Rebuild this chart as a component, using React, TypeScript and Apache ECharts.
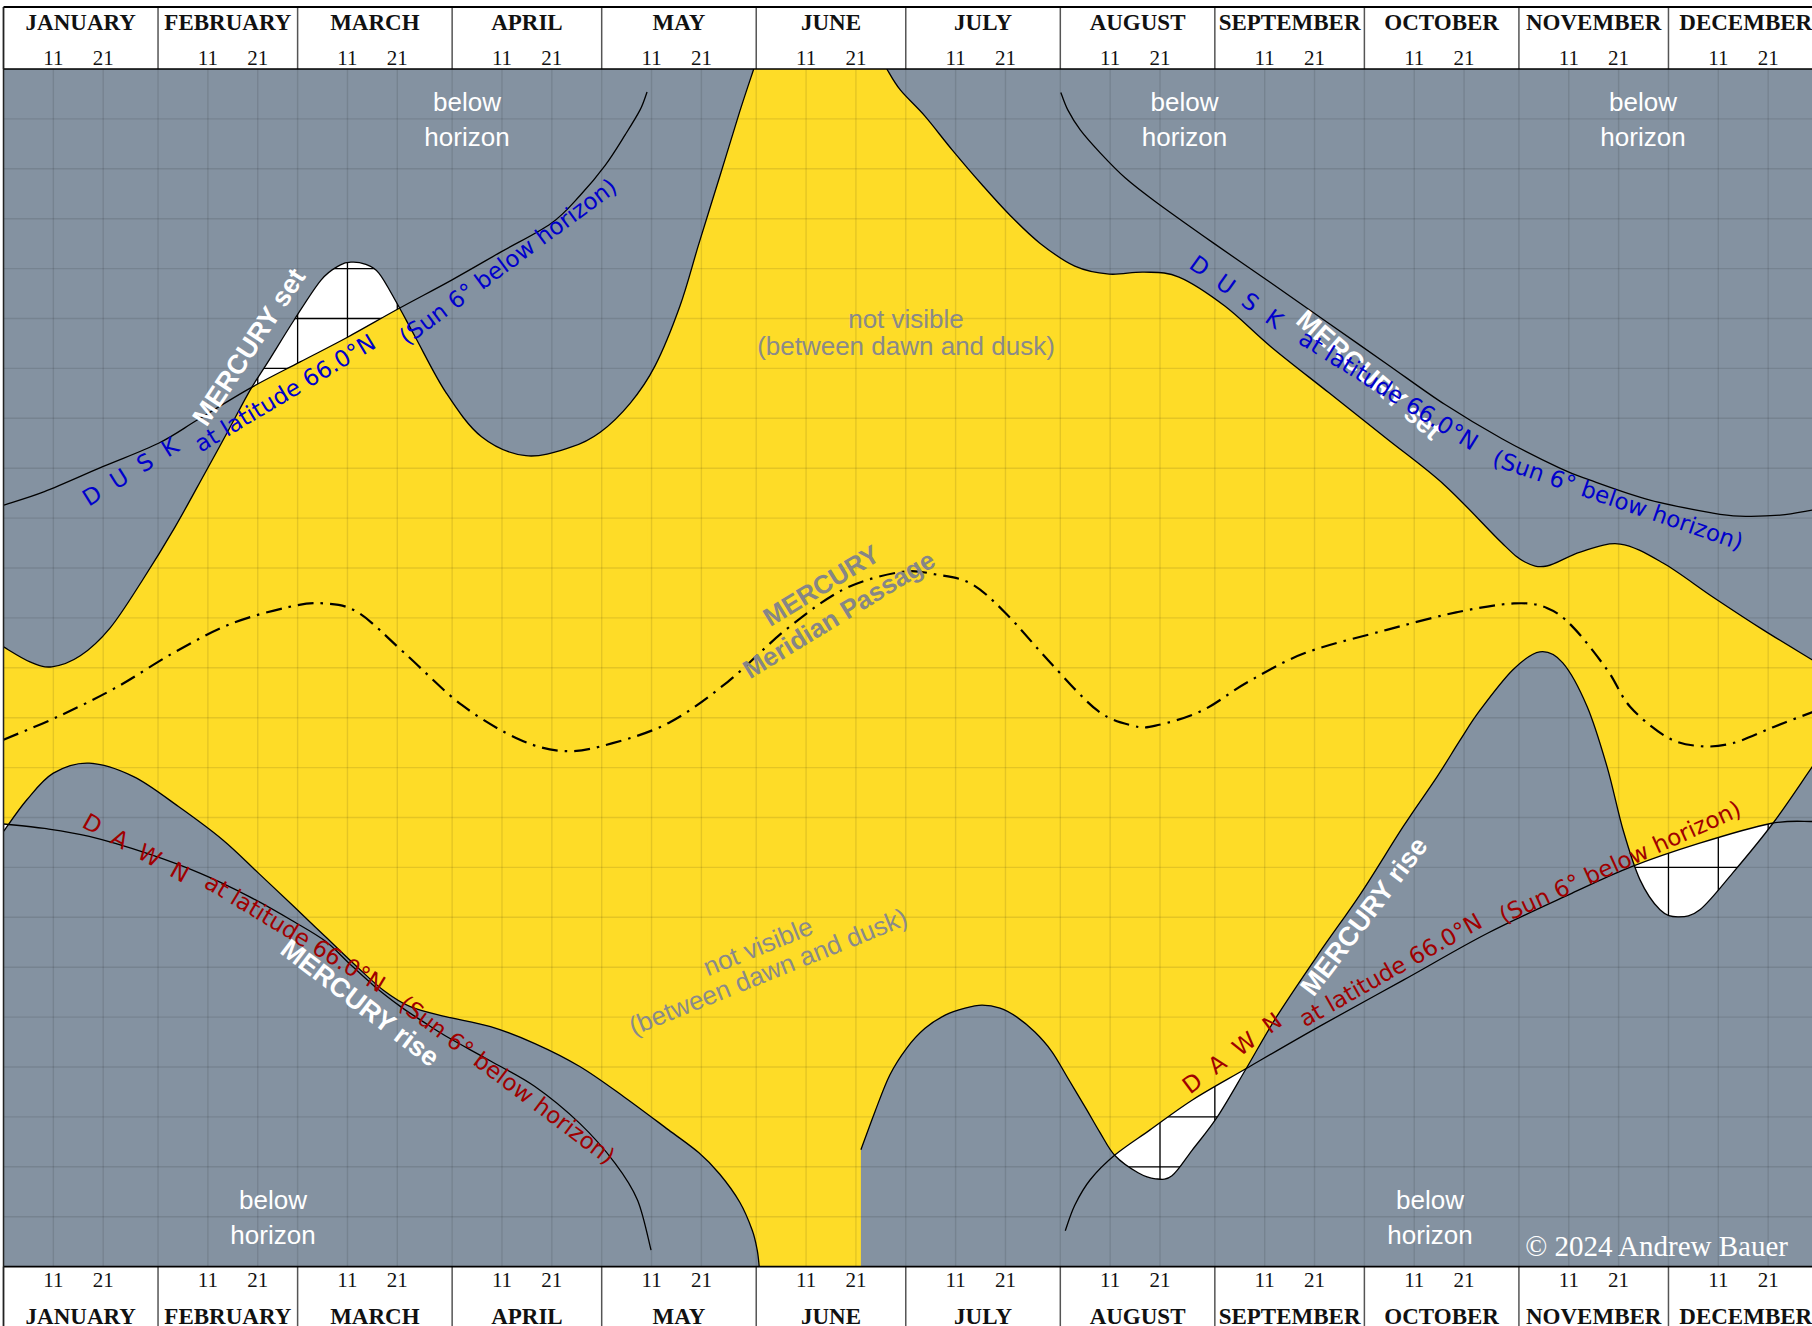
import React, { useEffect, useRef } from 'react';
import * as echarts from 'echarts';

// ---------- axis labels ----------
const MONTHS = ['JANUARY', 'FEBRUARY', 'MARCH', 'APRIL', 'MAY', 'JUNE', 'JULY', 'AUGUST', 'SEPTEMBER', 'OCTOBER', 'NOVEMBER', 'DECEMBER'];
const MONTH_DAYS = [31, 28, 31, 30, 31, 30, 31, 31, 30, 31, 30, 31];
const DAY_TICKS = [11, 21];
const HOUR_LINES = [0, 1, 2, 3, 4, 5, 6, 7, 8, 9, 10, 11, 12, 13, 14, 15, 16, 17, 18, 19, 20, 21, 22, 23, 24];

// ---------- curves: [day of year, hour] ----------
const SET_1 = [[0, 12.42], [5.3, 12.12], [9.7, 12.02], [15.4, 12.24], [21.4, 12.8], [27.9, 13.76], [34.4, 14.82], [40.4, 15.9], [44.8, 16.7], [49.5, 17.57], [53.0, 18.12], [58.3, 18.97], [63.7, 19.77], [67.5, 20.07], [69.9, 20.13], [72.5, 20.09], [75.3, 19.91], [78.9, 19.31], [82.6, 18.63], [88.8, 17.51], [95.9, 16.63], [104.8, 16.25], [113.8, 16.42], [119.7, 16.72], [125.7, 17.3], [130.7, 18.05], [135.7, 19.25], [139.5, 20.5], [143.7, 21.85], [147.7, 23.15], [150.5, 24]];
const SET_2 = [[177.2, 24], [179.9, 23.58], [184.8, 23.06], [190.3, 22.38], [196.3, 21.68], [201.9, 21.07], [207.9, 20.51], [214.9, 20.05], [221.8, 19.89], [228.8, 19.93], [235.8, 19.83], [245.0, 19.25], [254.3, 18.43], [265.9, 17.51], [277.5, 16.59], [289.1, 15.66], [300.6, 14.5], [305.2, 14.12], [309.6, 14.04], [316.3, 14.32], [324.3, 14.48], [332.9, 14.1], [342.9, 13.42], [353.0, 12.76], [362.8, 12.16], [365, 12.02]];
const RISE_1 = [[0, 8.72], [4.65, 9.35], [10.0, 9.89], [17.2, 10.09], [26.1, 9.82], [35.1, 9.22], [44.0, 8.55], [51.2, 7.88], [58.3, 7.21], [64.6, 6.61], [70.9, 6.01], [76.2, 5.54], [81.6, 5.21], [88.7, 5.01], [97.7, 4.81], [106.6, 4.47], [115.6, 4.01], [124.5, 3.4], [133.4, 2.74], [139.5, 2.28], [143.7, 1.85], [147.7, 1.29], [150.2, 0.73], [151.2, 0.33], [151.6, 0]];
const RISE_2 = [[172.0, 2.34], [174.8, 3.1], [177.8, 3.84], [181.2, 4.38], [184.8, 4.77], [188.9, 5.04], [192.9, 5.18], [196.3, 5.24], [199.9, 5.18], [203.3, 5.0], [206.9, 4.7], [210.3, 4.31], [213.5, 3.78], [217.2, 3.16], [220.0, 2.68], [223.0, 2.22], [227.6, 1.88], [231.1, 1.76], [234.4, 1.82], [238.5, 2.34], [243.5, 3.0], [249.3, 3.97], [255.4, 5.01], [263.9, 6.28], [272.3, 7.48], [280.8, 8.82], [287.6, 9.82], [292.2, 10.55], [296.2, 11.15], [302.8, 11.96], [308.2, 12.32], [312.8, 12.1], [317.7, 11.22], [321.7, 10.01], [324.9, 8.75], [328.3, 7.75], [332.3, 7.15], [335.9, 7.01], [340.3, 7.15], [346.9, 7.89], [355.0, 8.89], [362.8, 10.01], [365, 10.31]];
const DUSK_L = [[0, 15.26], [8.2, 15.53], [19.9, 16.03], [31.1, 16.5], [39.1, 16.98], [49.4, 17.6], [59.5, 18.13], [69.1, 18.63], [79.3, 19.2], [89.9, 19.77], [99.9, 20.34], [109.9, 20.91], [115.7, 21.47], [120.7, 22.07], [124.7, 22.68], [127.7, 23.18], [129.1, 23.54]];
const DAWN_L = [[0, 8.87], [8.2, 8.78], [17.2, 8.62], [28.8, 8.28], [39.5, 7.88], [49.4, 7.41], [58.3, 6.91], [64.6, 6.52], [69.1, 6.1], [74.4, 5.62], [79.8, 5.2], [84.0, 4.92], [88.7, 4.62], [97.7, 4.12], [106.6, 3.61], [115.6, 2.87], [122.7, 2.07], [127.2, 1.33], [129.9, 0.33]];
const DUSK_R = [[212.1, 23.53], [213.5, 23.18], [216.0, 22.78], [220.0, 22.32], [225.0, 21.82], [231.1, 21.34], [242.6, 20.52], [254.3, 19.71], [265.9, 18.9], [277.5, 18.09], [289.1, 17.28], [300.6, 16.59], [312.2, 16.0], [318.3, 15.76], [330.3, 15.36], [342.9, 15.1], [348.3, 15.04], [356.4, 15.06], [362.8, 15.16], [365, 15.2]];
const DAWN_R = [[213.0, 0.72], [214.9, 1.23], [218.0, 1.74], [223.0, 2.24], [230.0, 2.74], [238.5, 3.34], [249.3, 3.97], [263.9, 4.81], [280.8, 5.74], [297.7, 6.68], [314.6, 7.48], [326.5, 8.01], [340.1, 8.48], [354.5, 8.88], [362.8, 8.92], [365, 8.91]];
const MERIDIAN = [[0, 10.56], [10.9, 11.02], [22.5, 11.6], [34.1, 12.3], [45.6, 12.88], [57.3, 13.22], [64.2, 13.29], [71.1, 13.11], [80.4, 12.3], [92.0, 11.25], [103.6, 10.56], [112.8, 10.33], [122.2, 10.49], [133.7, 10.91], [145.3, 11.72], [156.9, 12.76], [168.5, 13.57], [180.0, 13.92], [187.1, 13.87], [194.0, 13.69], [200.9, 13.11], [210.3, 12.07], [219.5, 11.14], [226.5, 10.84], [231.1, 10.84], [240.4, 11.14], [249.7, 11.72], [261.2, 12.3], [277.5, 12.76], [291.4, 13.11], [303.0, 13.29], [309.6, 13.2], [314.8, 12.82], [321.7, 11.96], [326.3, 11.22], [333.7, 10.61], [340.3, 10.43], [346.9, 10.49], [355.0, 10.81], [362.8, 11.11], [365, 11.19]];

// ---------- style ----------
const YELLOW = '#fedc27';
const GRAY = '#8492a1';
const BLUE = '#0000cc';
const RED = '#a00000';
const SANS = '"Liberation Sans", Arial, sans-serif';
const DJV = '"DejaVu Sans", sans-serif';
const SERIF = '"Liberation Serif", "Times New Roman", serif';

function crPath(pts: number[][], first = 'M'): string {
  const f = (v: number) => v.toFixed(2);
  let d = `${first}${f(pts[0][0])},${f(pts[0][1])}`;
  for (let i = 0; i < pts.length - 1; i++) {
    const p0 = pts[Math.max(0, i - 1)];
    const p1 = pts[i];
    const p2 = pts[i + 1];
    const p3 = pts[Math.min(pts.length - 1, i + 2)];
    const c1x = p1[0] + (p2[0] - p0[0]) / 6;
    const c1y = p1[1] + (p2[1] - p0[1]) / 6;
    const c2x = p2[0] - (p3[0] - p1[0]) / 6;
    const c2y = p2[1] - (p3[1] - p1[1]) / 6;
    d += ` C${f(c1x)},${f(c1y)} ${f(c2x)},${f(c2y)} ${f(p2[0])},${f(p2[1])}`;
  }
  return d;
}

function txt(x: number, y: number, text: string, font: string, fill: string, rotDeg = 0, lineHeight?: number, align = 'center') {
  return {
    type: 'text', x, y, z: 100, rotation: (rotDeg * Math.PI) / 180,
    style: { text, font, fill, align, verticalAlign: 'middle', textAlign: align, textVerticalAlign: 'middle', lineHeight },
  };
}

function buildOption() {
  const monthStarts: number[] = [];
  MONTH_DAYS.reduce((acc, n) => { monthStarts.push(acc); return acc + n; }, 0);
  const yearEnd = monthStarts[11] + MONTH_DAYS[11];
  const gridDays: number[] = [];
  monthStarts.forEach((s) => { gridDays.push(s); DAY_TICKS.forEach((t) => gridDays.push(s + t - 1)); });

  const gridSeries = (color: string, width: number, z: number) => ({
    type: 'custom', coordinateSystem: 'cartesian2d', z, silent: true, clip: true, data: [[0, 0]],
    renderItem: (_p: any, api: any) => {
      const children: any[] = [];
      gridDays.forEach((d) => {
        const a = api.coord([d, 0]); const b = api.coord([d, 24]);
        children.push({ type: 'line', shape: { x1: a[0], y1: a[1], x2: b[0], y2: b[1] }, style: { stroke: color, lineWidth: width } });
      });
      HOUR_LINES.forEach((h) => {
        const a = api.coord([0, h]); const b = api.coord([yearEnd, h]);
        children.push({ type: 'line', shape: { x1: a[0], y1: a[1], x2: b[0], y2: b[1] }, style: { stroke: color, lineWidth: width } });
      });
      return { type: 'group', children };
    },
  });

  const areaSeries = {
    type: 'custom', coordinateSystem: 'cartesian2d', z: 2, silent: true, clip: true, data: [[0, 0]],
    renderItem: (_p: any, api: any) => {
      const P = (arr: number[][]) => arr.map((p) => api.coord(p));
      const top = api.coord([0, 24])[1];
      const bot = api.coord([0, 0])[1];
      const band = (dawn: number[][], dusk: number[][]) => crPath(P(dawn)) + ' ' + crPath(P(dusk).reverse(), 'L') + ' Z';
      const cap = (arr: number[][], y: number) => {
        const a = P(arr); const l = a[a.length - 1]; const f = a[0];
        return crPath(a) + ` L${l[0]},${y} L${f[0]},${y} Z`;
      };
      const xm0 = api.coord([Math.min(DAWN_L[DAWN_L.length - 1][0], DUSK_L[DUSK_L.length - 1][0]), 0])[0];
      const xm1 = api.coord([Math.max(DAWN_R[0][0], DUSK_R[0][0]), 0])[0];
      return {
        type: 'group',
        children: [
          { type: 'path', shape: { pathData: band(DAWN_L, DUSK_L) }, style: { fill: YELLOW } },
          { type: 'path', shape: { pathData: band(DAWN_R, DUSK_R) }, style: { fill: YELLOW } },
          { type: 'rect', shape: { x: xm0, y: top, width: xm1 - xm0, height: bot - top }, style: { fill: YELLOW } },
          { type: 'path', shape: { pathData: cap(SET_1, top) }, style: { fill: GRAY } },
          { type: 'path', shape: { pathData: cap(SET_2, top) }, style: { fill: GRAY } },
          { type: 'path', shape: { pathData: cap(RISE_1, bot) }, style: { fill: GRAY } },
          { type: 'path', shape: { pathData: cap(RISE_2, bot) }, style: { fill: GRAY } },
        ],
      };
    },
  };

  const strokeSeries = {
    type: 'custom', coordinateSystem: 'cartesian2d', z: 4, silent: true, clip: true, data: [[0, 0]],
    renderItem: (_p: any, api: any) => {
      const P = (arr: number[][]) => arr.map((p) => api.coord(p));
      const curve = (arr: number[][]) => ({ type: 'path', shape: { pathData: crPath(P(arr)) }, style: { fill: 'none', stroke: '#000', lineWidth: 1.3 } });
      return {
        type: 'group',
        children: [
          curve(SET_1), curve(SET_2), curve(RISE_1), curve(RISE_2),
          curve(DUSK_L), curve(DAWN_L), curve(DUSK_R), curve(DAWN_R),
          { type: 'path', shape: { pathData: crPath(P(MERIDIAN)) }, style: { fill: 'none', stroke: '#000', lineWidth: 2.2, lineDash: [16, 7, 2.5, 7] } },
        ],
      };
    },
  };

  const headerSeries = {
    type: 'custom', coordinateSystem: 'cartesian2d', z: 5, silent: true, clip: false, data: [[0, 0]],
    renderItem: (_p: any, api: any) => {
      const top = api.coord([0, 24])[1];
      const bot = api.coord([0, 0])[1];
      const left = api.coord([0, 0])[0];
      const right = api.coord([yearEnd, 0])[0];
      const children: any[] = [];
      const line = (x1: number, y1: number, x2: number, y2: number, w: number, c: string) =>
        children.push({ type: 'line', shape: { x1, y1, x2, y2 }, style: { stroke: c, lineWidth: w } });
      const text = (x: number, y: number, t: string, font: string) =>
        children.push({ type: 'text', x, y, style: { text: t, font, fill: '#111', align: 'center', verticalAlign: 'middle', textAlign: 'center', textVerticalAlign: 'middle' } });
      const MF = `bold 23px ${SERIF}`;
      const DF = `21px ${SERIF}`;
      monthStarts.forEach((s, i) => {
        const x0 = api.coord([s, 0])[0];
        const x1 = api.coord([s + MONTH_DAYS[i], 0])[0];
        const xm = (x0 + x1) / 2;
        text(xm, top - 47, MONTHS[i], MF);
        text(xm, bot + 49.5, MONTHS[i], MF);
        DAY_TICKS.forEach((t) => {
          const x = api.coord([s + t - 1, 0])[0];
          text(x, top - 11, String(t), DF);
          text(x, bot + 13.5, String(t), DF);
        });
        line(x0, top - 62, x0, top, 1.5, '#555');
        line(x0, bot, x0, bot + 80, 1.5, '#555');
      });
      line(left, top - 62, right + 20, top - 62, 2.2, '#000');
      line(left, top, right + 20, top, 1.6, '#000');
      line(left, bot, right + 20, bot, 1.6, '#000');
      line(left, top - 62, left, bot + 80, 1.5, '#222');
      return { type: 'group', children };
    },
  };

  const BH = `26px ${SANS}`;
  const NV = `26px ${SANS}`;
  const MB = `bold 27px ${SANS}`;
  const LB = `23px ${DJV}`;
  const graphics = [
    txt(467, 119, 'below\nhorizon', BH, '#fff', 0, 35),
    txt(1184.5, 119, 'below\nhorizon', BH, '#fff', 0, 35),
    txt(1643, 119, 'below\nhorizon', BH, '#fff', 0, 35),
    txt(273, 1217.5, 'below\nhorizon', BH, '#fff', 0, 35),
    txt(1430, 1217.5, 'below\nhorizon', BH, '#fff', 0, 35),
    txt(906, 332, 'not visible\n(between dawn and dusk)', NV, '#8a8a8a', 0, 27),
    txt(763, 959, 'not visible\n(between dawn and dusk)', NV, '#8a8a8a', 22, 27),
    txt(830, 600, 'MERCURY\nMeridian Passage', `bold 26px ${SANS}`, '#868686', 31.5, 34),
    txt(249, 347, 'MERCURY set', MB, '#fff', 56.6),
    txt(1369, 375, 'MERCURY set', MB, '#fff', -41),
    txt(360, 1003, 'MERCURY rise', MB, '#fff', -37.2),
    txt(1364, 916.5, 'MERCURY rise', MB, '#fff', 52.8),
    txt(130.4, 471.7, 'D  U  S  K', LB, BLUE, 31.8),
    txt(285, 393, 'at latitude 66.0°N', LB, BLUE, 30.9),
    txt(508, 261.5, '(Sun 6° below horizon)', LB, BLUE, 36.3),
    txt(1236.5, 292, 'D  U  S  K', LB, BLUE, -35.4),
    txt(1388.5, 390, 'at latitude 66.0°N', LB, BLUE, -31.9),
    txt(1618, 500, '(Sun 6° below horizon)', LB, BLUE, -19),
    txt(136, 848, 'D  A  W  N', LB, RED, -29),
    txt(295, 933, 'at latitude 66.0°N', LB, RED, -31.2),
    txt(507, 1080, '(Sun 6° below horizon)', LB, RED, -37),
    txt(1232, 1053, 'D  A  W  N', LB, RED, 37),
    txt(1390.5, 970, 'at latitude 66.0°N', LB, RED, 29.5),
    txt(1620, 862, '(Sun 6° below horizon)', LB, RED, 24.5),
    txt(1788, 1246, '© 2024 Andrew Bauer', `29px ${SERIF}`, '#fff', 0, undefined, 'right'),
  ];

  return {
    animation: false,
    backgroundColor: '#fff',
    grid: { left: 3.5, top: 69, width: 1819.5, height: 1197.6, show: true, backgroundColor: '#fff', borderWidth: 0 },
    xAxis: { type: 'value', min: 0, max: yearEnd, show: false },
    yAxis: { type: 'value', min: 0, max: 24, show: false },
    graphic: { elements: graphics },
    series: [
      gridSeries('#000', 1.3, 1),
      areaSeries,
      gridSeries('rgba(0,0,0,0.1)', 1.4, 3),
      strokeSeries,
      headerSeries,
    ],
  };
}

export default function App() {
  const ref = useRef<HTMLDivElement>(null);
  useEffect(() => {
    const chart = echarts.init(ref.current as HTMLDivElement, null, { renderer: 'svg' });
    chart.setOption(buildOption() as any);
    return () => chart.dispose();
  }, []);
  return (
    <div style={{ position: 'fixed', left: 0, top: 0, width: 1812, height: 1326, overflow: 'hidden', background: '#fff' }}>
      <div ref={ref} style={{ width: 1830, height: 1326 }} />
    </div>
  );
}
